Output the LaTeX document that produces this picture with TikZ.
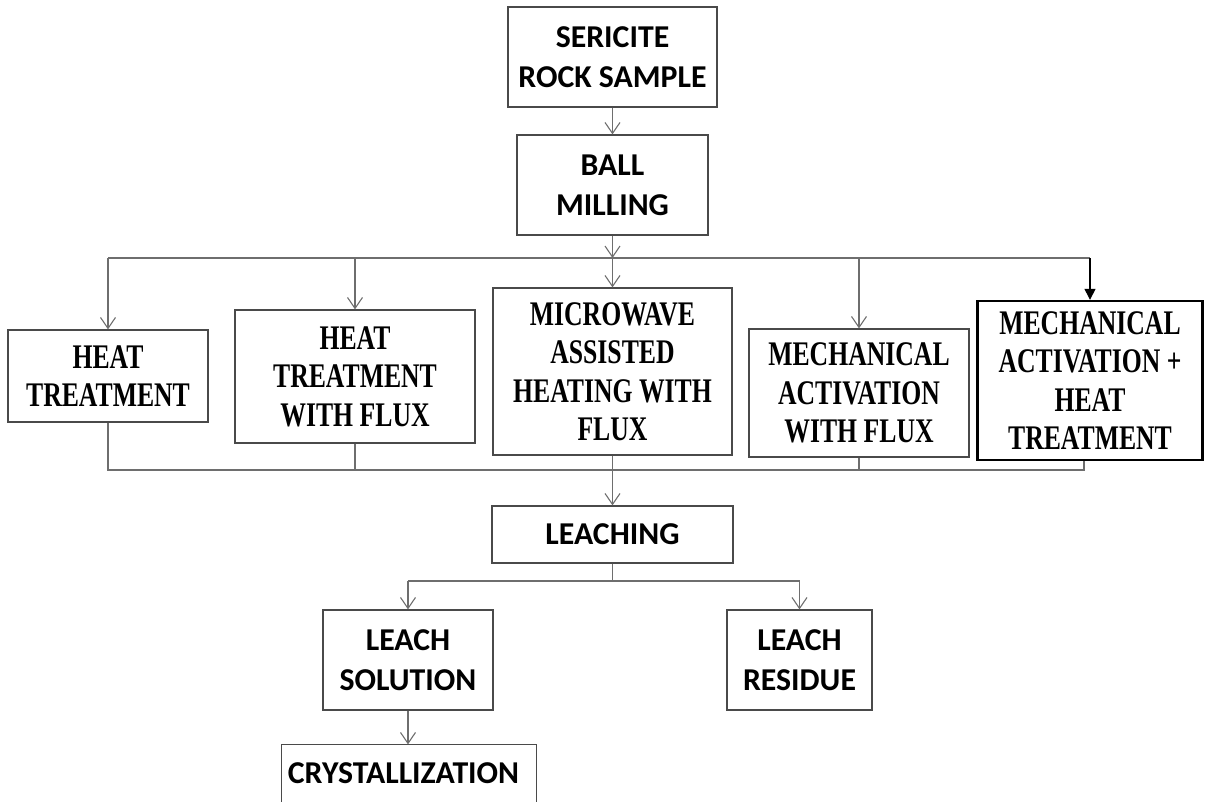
\documentclass[tikz,border=0pt]{standalone}
\usepackage{fontspec}
\newfontfamily\calfont{Carlito}
\newfontfamily\tnrfont[FakeStretch=0.745]{Liberation Serif}
\usetikzlibrary{arrows.meta}
\definecolor{boxgray}{HTML}{4A4A4A}
\definecolor{linegray}{HTML}{6E6E6E}
\begin{document}
\begin{tikzpicture}[x=1pt,y=-1pt,
 box/.style={draw=boxgray, line width=1.2pt, inner sep=0pt, align=center},
 calbox/.style={box, font=\calfont\bfseries\fontsize{31.8}{40}\selectfont},
 serbox/.style={box, font=\tnrfont\bfseries\fontsize{34.5}{38.5}\selectfont},
 conn/.style={draw=linegray, line width=1.3pt},
 arr/.style={conn, -{Straight Barb[length=11pt,width=15pt,line width=1.1pt]}},
 farr/.style={conn, draw=black, -{Triangle[length=11pt,width=11pt]}},
]
\useasboundingbox (0,0) rectangle (1208,801);
% top
\node[calbox, minimum width=209pt, minimum height=100pt] (ser) at (612.5,57) {SERICITE\\ROCK SAMPLE};
\node[calbox, minimum width=191pt, minimum height=100pt] (ball) at (612.5,185) {BALL\\MILLING};
% middle row
\node[serbox, minimum width=200pt, minimum height=92pt] (ht) at (108,376) {HEAT\\TREATMENT};
\node[serbox, minimum width=240pt, minimum height=133pt] (htf) at (355,376.5) {HEAT\\TREATMENT\\WITH FLUX};
\node[serbox, minimum width=239pt, minimum height=167pt] (mw) at (612.5,371.5) {MICROWAVE\\ASSISTED\\HEATING WITH\\FLUX};
\node[serbox, minimum width=220pt, minimum height=128pt] (maf) at (859,393) {MECHANICAL\\ACTIVATION\\WITH FLUX};
\node[serbox, draw=black, line width=2.4pt, minimum width=225pt, minimum height=159pt] (maht) at (1090,380.5) {MECHANICAL\\ACTIVATION +\\HEAT\\TREATMENT};
% bottom
\node[calbox, minimum width=241pt, minimum height=57pt] (leach) at (612.5,534.5) {LEACHING};
\node[calbox, minimum width=170pt, minimum height=100pt] (lsol) at (408,660) {LEACH\\SOLUTION};
\node[calbox, minimum width=145pt, minimum height=100pt] (lres) at (799.5,660) {LEACH\\RESIDUE};
\node[box, draw=none, minimum width=254pt, minimum height=56pt] (cryst) at (409,773) {};
\node[calbox, draw=none] (crysttext) at (403.5,773) {CRYSTALLIZATION};
\draw[draw=boxgray, line width=1.2pt] (cryst.south west) -- (cryst.north west) -- (cryst.north east) -- (cryst.south east);
% connectors top
\coordinate (tj) at (612.5,258);
\coordinate (tl) at (108,258);
\coordinate (tr) at (1090,258);
\draw[arr] (ser) -- (ball);
\draw[arr] (ball.south) -- (tj);
\draw[conn] (tl) -- (tr);
\draw[arr] (tl) -- (ht.north);
\draw[arr] (tl -| htf.north) -- (htf.north);
\draw[arr] (tj) -- (mw.north);
\draw[arr] (tl -| maf.north) -- (maf.north);
\draw[farr] (tr) -- (maht.north);
% connectors bottom of row
\coordinate (bl) at (108,470);
\coordinate (br) at (1084,470);
\draw[conn] (ht.south) -- (bl) -- (br) -- (br |- maht.south);
\draw[conn] (htf.south) -- (htf.south |- bl);
\draw[conn] (mw.south) -- (mw.south |- bl);
\draw[conn] (maf.south) -- (maf.south |- bl);
\draw[arr] (bl -| leach.north) -- (leach.north);
% leaching split
\coordinate (lj) at (612.5,581);
\coordinate (ll) at (408,581);
\coordinate (lr) at (799.5,581);
\draw[conn] (leach.south) -- (lj);
\draw[conn] (ll) -- (lr);
\draw[arr] (ll) -- (lsol.north);
\draw[arr] (lr) -- (lres.north);
\draw[arr] (lsol.south) -- (lsol.south |- cryst.north);
\end{tikzpicture}
\end{document}
